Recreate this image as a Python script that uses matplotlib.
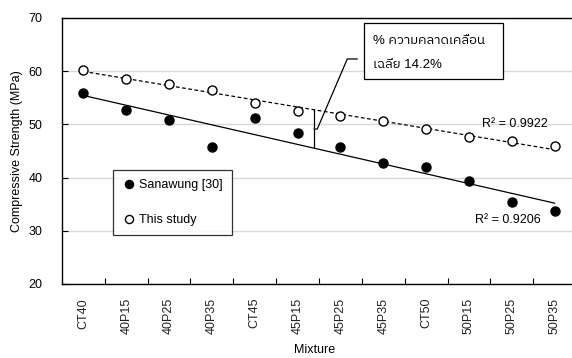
import numpy as np
import matplotlib
matplotlib.use("Agg")
import matplotlib.pyplot as plt
from matplotlib import font_manager
from matplotlib.ft2font import FT2Font
from matplotlib.patches import Rectangle

mixtures = ["CT40", "40P15", "40P25", "40P35", "CT45", "45P15", "45P25",
            "45P35", "CT50", "50P15", "50P25", "50P35"]
sanawung = [55.9, 52.7, 50.8, 45.8, 51.2, 48.4, 45.8, 42.7, 41.9, 39.4, 35.4, 33.8]
this_study = [60.3, 58.6, 57.6, 56.5, 54.1, 52.5, 51.5, 50.6, 49.1, 47.7, 46.8, 45.9]
r2_sanawung = "R² = 0.9206"
r2_this = "R² = 0.9922"
callout_lines = ["% ความคลาดเคลื่อน", "เฉลี่ย 14.2%"]

# find a font with Thai glyphs
thai_family = None
for f in font_manager.fontManager.ttflist:
    try:
        cm = FT2Font(f.fname).get_charmap()
        if 0x0E04 in cm and 0x0E25 in cm:
            thai_family = f.name
            if "Sans" in f.name:
                break
    except Exception:
        pass
fam = ["Liberation Sans"] + ([thai_family] if thai_family else []) + ["DejaVu Sans"]
plt.rcParams["font.family"] = fam
FS = 9

W, H = 572, 358
fig = plt.figure(figsize=(W / 100, H / 100), dpi=100)
L, R, T, B = 62, 576, 18, 284
ax = fig.add_axes([L / W, 1 - B / H, (R - L) / W, (B - T) / H])

x = np.arange(len(mixtures))
ax.set_xlim(-0.5, len(mixtures) - 0.5)
ax.set_ylim(20, 70)

ax.yaxis.grid(True, color="#d9d9d9", linewidth=1)
ax.set_axisbelow(True)

# trend lines
ps = np.polyfit(x, sanawung, 1)
pt = np.polyfit(x, this_study, 1)
ax.plot(x[[0, -1]], np.polyval(ps, x[[0, -1]]), color="black", lw=0.9, zorder=2)
ax.plot(x[[0, -1]], np.polyval(pt, x[[0, -1]]), color="black", lw=0.9,
        ls=(0, (3, 2)), zorder=2)

ax.plot(x, sanawung, "o", ms=6.5, color="black", mec="black",
        label="Sanawung [30]", zorder=3)
ax.plot(x, this_study, "o", ms=6.5, mfc="white", mec="black", mew=1,
        label="This study", zorder=3)

# bracket and callout
xb = 5.39
y_top = np.polyval(pt, xb)
y_bot = np.polyval(ps, xb)
ax.plot([xb, xb], [y_bot, y_top], color="black", lw=0.9, zorder=2)
ym = (y_top + y_bot) / 2
ax.plot([xb, xb + 0.07, 6.16, 6.39], [ym, ym, 62.3, 62.3], color="black", lw=0.9, zorder=2)
ax.add_patch(Rectangle((6.55, 58.53), 3.25, 10.53, fill=True, facecolor="white",
                       edgecolor="black", lw=0.9, zorder=4))
ax.text(6.77, 65.6, callout_lines[0], fontsize=FS + 0.5, va="center", ha="left", zorder=5)
ax.text(6.77, 61.1, callout_lines[1], fontsize=FS + 0.5, va="center", ha="left", zorder=5)

ax.text(10.08, 50.1, r2_this, fontsize=FS, ha="center", va="center")
ax.text(9.92, 32.0, r2_sanawung, fontsize=FS, ha="center", va="center")

# axes styling
ax.set_xticks(x)
ax.set_xticklabels(mixtures, rotation=90, fontsize=FS)
ax.tick_params(axis="x", which="major", length=0, pad=10, colors="#222222")
ax.set_xticks(np.arange(0.5, len(mixtures) - 0.5, 1), minor=True)
ax.tick_params(axis="x", which="minor", direction="in", length=4, width=0.8)
ax.set_yticks([20, 30, 40, 50, 60, 70])
ax.tick_params(axis="y", direction="in", length=4, width=0.8, pad=14,
               labelsize=FS, colors="black")
for s in ["left", "bottom", "top"]:
    ax.spines[s].set_linewidth(1)
ax.spines["right"].set_visible(False)

ax.set_ylabel("Compressive Strength (MPa)", fontsize=FS)
ax.set_xlabel("Mixture", fontsize=FS)
ax.yaxis.set_label_coords(-(62 - 23) / (R - L), 0.5)
ax.xaxis.set_label_coords((315 - L) / (R - L), -(344 - B) / (B - T))

leg = ax.legend(loc="upper left", bbox_to_anchor=((113 - L) / (R - L), (B - 170) / (B - T)),
                borderaxespad=0, fontsize=FS, frameon=True, fancybox=False,
                edgecolor="black", labelspacing=1.8, handletextpad=0.25,
                handlelength=1.1, borderpad=0.75, markerscale=0.9)
leg.get_frame().set_linewidth(0.9)

fig.savefig("out.png", dpi=100)
